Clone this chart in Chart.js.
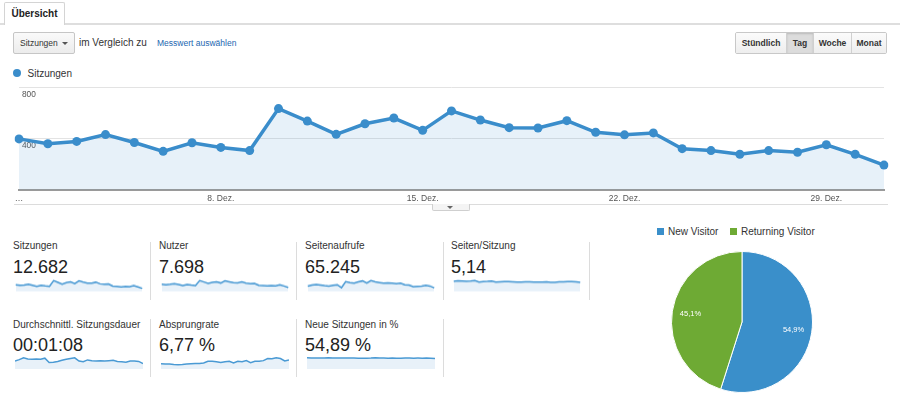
<!DOCTYPE html>
<html><head><meta charset="utf-8">
<script src="https://cdn.jsdelivr.net/npm/chart.js@4.4.0/dist/chart.umd.min.js"></script>
<style>
body{margin:0;width:900px;height:407px;background:#fff;font-family:"Liberation Sans",Arial,sans-serif;position:relative;overflow:hidden;color:#333}
.a{position:absolute;white-space:nowrap}
.tabline{left:0;top:23px;width:900px;height:2px;background:#dedede}
.tab{left:4px;top:2px;width:59px;height:22px;border:1px solid #d4d4d4;border-bottom:none;background:#fff;font-weight:bold;font-size:10px;line-height:22px;text-align:center;color:#222;border-radius:2px 2px 0 0}
.dd{left:13px;top:32px;width:62px;height:22px;box-sizing:border-box;border:1px solid #c6c6c6;border-radius:2px;background:linear-gradient(#fafafa,#ececec);font-size:8.5px;line-height:20px;padding-left:6px;color:#333}
.tri{left:62px;top:42px;width:0;height:0;border-left:3px solid transparent;border-right:3px solid transparent;border-top:3.5px solid #555}
.btns{left:735px;top:32px;width:152px;height:22px;box-sizing:border-box;border:1px solid #c8c8c8;border-radius:2px;display:flex;overflow:hidden}
.btns div{box-sizing:border-box;font-size:8.5px;font-weight:bold;line-height:20px;text-align:center;background:linear-gradient(#fbfbfb,#eeeeee);border-left:1px solid #d0d0d0;color:#333}
.btns div:first-child{border-left:none}
.btns div.on{background:#dcdcdc;box-shadow:inset 0 1px 2px rgba(0,0,0,.15)}
.lbl{font-size:10px;line-height:12px;color:#333}
.val{font-size:18px;line-height:20px;color:#222}
.div{width:1px;background:#dcdcdc}
.sp{width:128px}
</style></head><body>
<div class="a tabline"></div>
<div class="a tab">Übersicht</div>
<div class="a dd">Sitzungen</div>
<div class="a tri"></div>
<div class="a" style="left:79px;top:37px;font-size:10px;line-height:12px;color:#333">im Vergleich zu</div>
<div class="a" style="left:157px;top:38px;font-size:8.5px;line-height:11px;color:#2266b0">Messwert auswählen</div>
<div class="a btns"><div style="width:50px">Stündlich</div><div class="on" style="width:27px">Tag</div><div style="width:38px">Woche</div><div style="flex:1">Monat</div></div>
<div class="a" style="left:12.5px;top:69px;width:8px;height:8px;border-radius:50%;background:#3a8dcb"></div>
<div class="a" style="left:27.5px;top:67.5px;font-size:10px;line-height:12px;color:#333">Sitzungen</div>

<div class="a" style="left:0;top:80px;width:900px;height:133px"><canvas id="main"></canvas></div>
<div class="a" style="left:14px;top:204px;width:874px;height:1px;background:#dcdcdc"></div>
<div class="a" style="left:432px;top:204px;width:36px;height:6px;border:1px solid #cfcfcf;border-top:none;background:#f4f4f4;border-radius:0 0 2px 2px"></div>
<div class="a" style="left:447px;top:206px;width:0;height:0;border-left:3px solid transparent;border-right:3px solid transparent;border-top:3px solid #666"></div>

<div class="a lbl" style="left:13px;top:240px">Sitzungen</div>
<div class="a val" style="left:13px;top:257px">12.682</div>
<div class="a lbl" style="left:159px;top:240px">Nutzer</div>
<div class="a val" style="left:159px;top:257px">7.698</div>
<div class="a lbl" style="left:305px;top:240px">Seitenaufrufe</div>
<div class="a val" style="left:305px;top:257px">65.245</div>
<div class="a lbl" style="left:451px;top:240px">Seiten/Sitzung</div>
<div class="a val" style="left:451px;top:257px">5,14</div>
<div class="a lbl" style="left:13px;top:319px">Durchschnittl. Sitzungsdauer</div>
<div class="a val" style="left:13px;top:335px">00:01:08</div>
<div class="a lbl" style="left:159px;top:319px">Absprungrate</div>
<div class="a val" style="left:159px;top:335px">6,77 %</div>
<div class="a lbl" style="left:305px;top:319px">Neue Sitzungen in %</div>
<div class="a val" style="left:305px;top:335px">54,89 %</div>

<div class="a div" style="left:150px;top:242px;height:58px"></div>
<div class="a div" style="left:296px;top:242px;height:58px"></div>
<div class="a div" style="left:443px;top:242px;height:58px"></div>
<div class="a div" style="left:589px;top:242px;height:58px"></div>
<div class="a div" style="left:150px;top:319px;height:58px"></div>
<div class="a div" style="left:296px;top:319px;height:58px"></div>
<div class="a div" style="left:443px;top:319px;height:58px"></div>

<div class="a sp" style="left:15px;top:277px;height:14.5px"><canvas id="s1"></canvas></div>
<div class="a sp" style="left:161px;top:277px;height:14.5px"><canvas id="s2"></canvas></div>
<div class="a sp" style="left:307px;top:277px;height:14.5px"><canvas id="s3"></canvas></div>
<div class="a sp" style="left:453px;top:277px;height:14.5px"><canvas id="s4"></canvas></div>
<div class="a sp" style="left:15px;top:355px;height:14px"><canvas id="s5"></canvas></div>
<div class="a sp" style="left:161px;top:355px;height:14px"><canvas id="s6"></canvas></div>
<div class="a sp" style="left:307px;top:355px;height:14px"><canvas id="s7"></canvas></div>

<div id="pieLegend"></div>
<div class="a" style="left:671px;top:251px;width:142px;height:142px"><canvas id="pie"></canvas></div>

<script>
const categories = ['1. Dez.','2. Dez.','3. Dez.','4. Dez.','5. Dez.','6. Dez.','7. Dez.','8. Dez.','9. Dez.','10. Dez.','11. Dez.','12. Dez.','13. Dez.','14. Dez.','15. Dez.','16. Dez.','17. Dez.','18. Dez.','19. Dez.','20. Dez.','21. Dez.','22. Dez.','23. Dez.','24. Dez.','25. Dez.','26. Dez.','27. Dez.','28. Dez.','29. Dez.','30. Dez.','31. Dez.'];
const sessions = [400,362,380,434,372,302,370,333,308,638,540,436,519,564,467,620,548,488,486,543,452,432,447,323,308,279,308,295,354,279,194];
const users = [300,280,292,320,285,245,285,262,248,440,385,330,370,395,345,430,392,355,352,388,335,320,330,255,245,228,245,238,275,228,170];
const pageviews = [1400,1640,1790,1640,1480,1400,1560,1720,1010,2500,2260,2100,2420,2650,2100,2730,2420,2260,2100,2180,2100,1950,2100,1720,1640,1250,1330,1400,1560,1400,940];
const pagesPerSession = [5.3,5.6,5.5,5.4,5.5,5.7,5.0,5.2,5.3,5.5,5.0,5.1,5.2,5.2,5.1,4.9,5.0,5.1,5.1,5.0,5.0,5.0,5.1,4.8,4.8,5.1,5.1,5.2,5.2,5.1,4.8];
const avgDurationSec = [64,75,90,81,78,81,78,87,52,55,61,70,78,84,90,64,58,73,67,64,67,64,67,70,61,58,55,64,64,61,44];
const bounceRate = [5.0,4.7,4.7,4.3,4.0,4.3,4.7,5.0,5.3,5.3,5.7,7.3,7.3,7.0,6.3,7.0,7.3,5.7,7.3,7.0,8.0,6.0,7.3,7.3,8.0,10.0,9.7,10.7,10.0,7.7,8.7];
const newSessionsPct = [56.5,55.8,55.2,56.0,55.6,56.4,55.5,55.0,55.8,55.5,56.0,55.2,54.8,54.2,54.6,55.2,56.4,55.0,56.0,54.6,55.0,54.5,54.8,55.2,55.6,54.8,55.0,54.8,55.2,54.6,53.2];
const xTickLabels = ['…','8. Dez.','15. Dez.','22. Dez.','29. Dez.'];
const xTickIndex = [0,7,14,21,28];
const yTicks = [0,400,800];
const pieLabels = ['New Visitor','Returning Visitor'];
const pieValues = [54.9,45.1];
const pieColors = ['#3a8fca','#6eaa34'];

const FONT = '"Liberation Sans", Arial, sans-serif';
Chart.defaults.font.family = FONT;
Chart.defaults.animation = false;

new Chart(document.getElementById('main'), {
  type: 'line',
  data: { labels: categories, datasets: [{
    data: sessions, borderColor: '#3a8dcb', borderWidth: 3.5, pointRadius: 4.5,
    pointBackgroundColor: '#3a8dcb', pointBorderWidth: 0, fill: 'origin',
    backgroundColor: 'rgba(58,141,203,0.12)', tension: 0
  }]},
  options: {
    responsive: true, maintainAspectRatio: false,
    layout: { padding: { left: 13, right: 16, top: 6.5, bottom: 5 } },
    plugins: { legend: { display: false }, tooltip: { enabled: false } },
    scales: {
      x: {
        offset: false,
        grid: { display: false, drawTicks: false },
        border: { display: true, color: '#9a9a9a', width: 2 },
        ticks: { autoSkip: false, maxRotation: 0, padding: 4, color: '#555', font: { size: 8.5 },
          callback: (v, i) => { const k = xTickIndex.indexOf(i); return k >= 0 ? xTickLabels[k] : ''; } }
      },
      y: {
        min: 0, max: 800,
        afterBuildTicks: s => { s.ticks = yTicks.map(v => ({ value: v })); },
        grid: { color: '#e3e3e3', drawTicks: false, lineWidth: 1 },
        border: { display: false },
        ticks: { mirror: true, padding: 3, labelOffset: 7, color: '#555', font: { size: 8.3 },
          callback: v => v === 0 ? '' : v }
      }
    }
  }
});

function spark(id, values) {
  new Chart(document.getElementById(id), {
    type: 'line',
    data: { labels: categories, datasets: [{ data: values, borderColor: '#4a9ad4', borderWidth: 1.5,
      pointRadius: 0, fill: 'origin', backgroundColor: '#e8f1f9', tension: 0 }]},
    options: { responsive: true, maintainAspectRatio: false,
      layout: { padding: 0 },
      plugins: { legend: { display: false }, tooltip: { enabled: false } },
      scales: { x: { display: false, offset: false },
        y: { display: false, min: 0, bounds: 'data', afterDataLimits: s => { s.max = s.max * 1.25; } } } }
  });
}
spark('s1', sessions);
spark('s2', users);
spark('s3', pageviews);
spark('s4', pagesPerSession);
spark('s5', avgDurationSec);
spark('s6', bounceRate);
spark('s7', newSessionsPct);

// legend for pie
const legendLefts = [657, 730];
const lg = document.getElementById('pieLegend');
pieLabels.forEach((l, i) => {
  const sq = document.createElement('div');
  sq.className = 'a';
  sq.style.cssText = `left:${legendLefts[i]}px;top:228px;width:7px;height:7px;background:${pieColors[i]}`;
  lg.appendChild(sq);
  const t = document.createElement('div');
  t.className = 'a';
  t.style.cssText = `left:${legendLefts[i]+11}px;top:225.6px;font-size:10px;line-height:12px;color:#333`;
  t.textContent = l;
  lg.appendChild(t);
});

const pieLabelPlugin = {
  id: 'pieLabels',
  afterDatasetsDraw(chart) {
    const ctx = chart.ctx;
    const meta = chart.getDatasetMeta(0);
    ctx.save();
    ctx.fillStyle = '#fff';
    ctx.font = '7.5px ' + FONT;
    ctx.textAlign = 'center';
    ctx.textBaseline = 'middle';
    meta.data.forEach((arc, i) => {
      const mid = (arc.startAngle + arc.endAngle) / 2;
      const r = arc.outerRadius * 0.74;
      const txt = pieValues[i].toFixed(1).replace('.', ',') + '%';
      ctx.fillText(txt, arc.x + Math.cos(mid) * r, arc.y + Math.sin(mid) * r);
    });
    ctx.restore();
  }
};

new Chart(document.getElementById('pie'), {
  type: 'pie',
  data: { labels: pieLabels, datasets: [{ data: pieValues, backgroundColor: pieColors, borderColor: '#fff', borderWidth: 1 }] },
  options: { responsive: true, maintainAspectRatio: false, layout: { padding: 0 },
    plugins: { legend: { display: false }, tooltip: { enabled: false } } },
  plugins: [pieLabelPlugin]
});
</script>
</body></html>
